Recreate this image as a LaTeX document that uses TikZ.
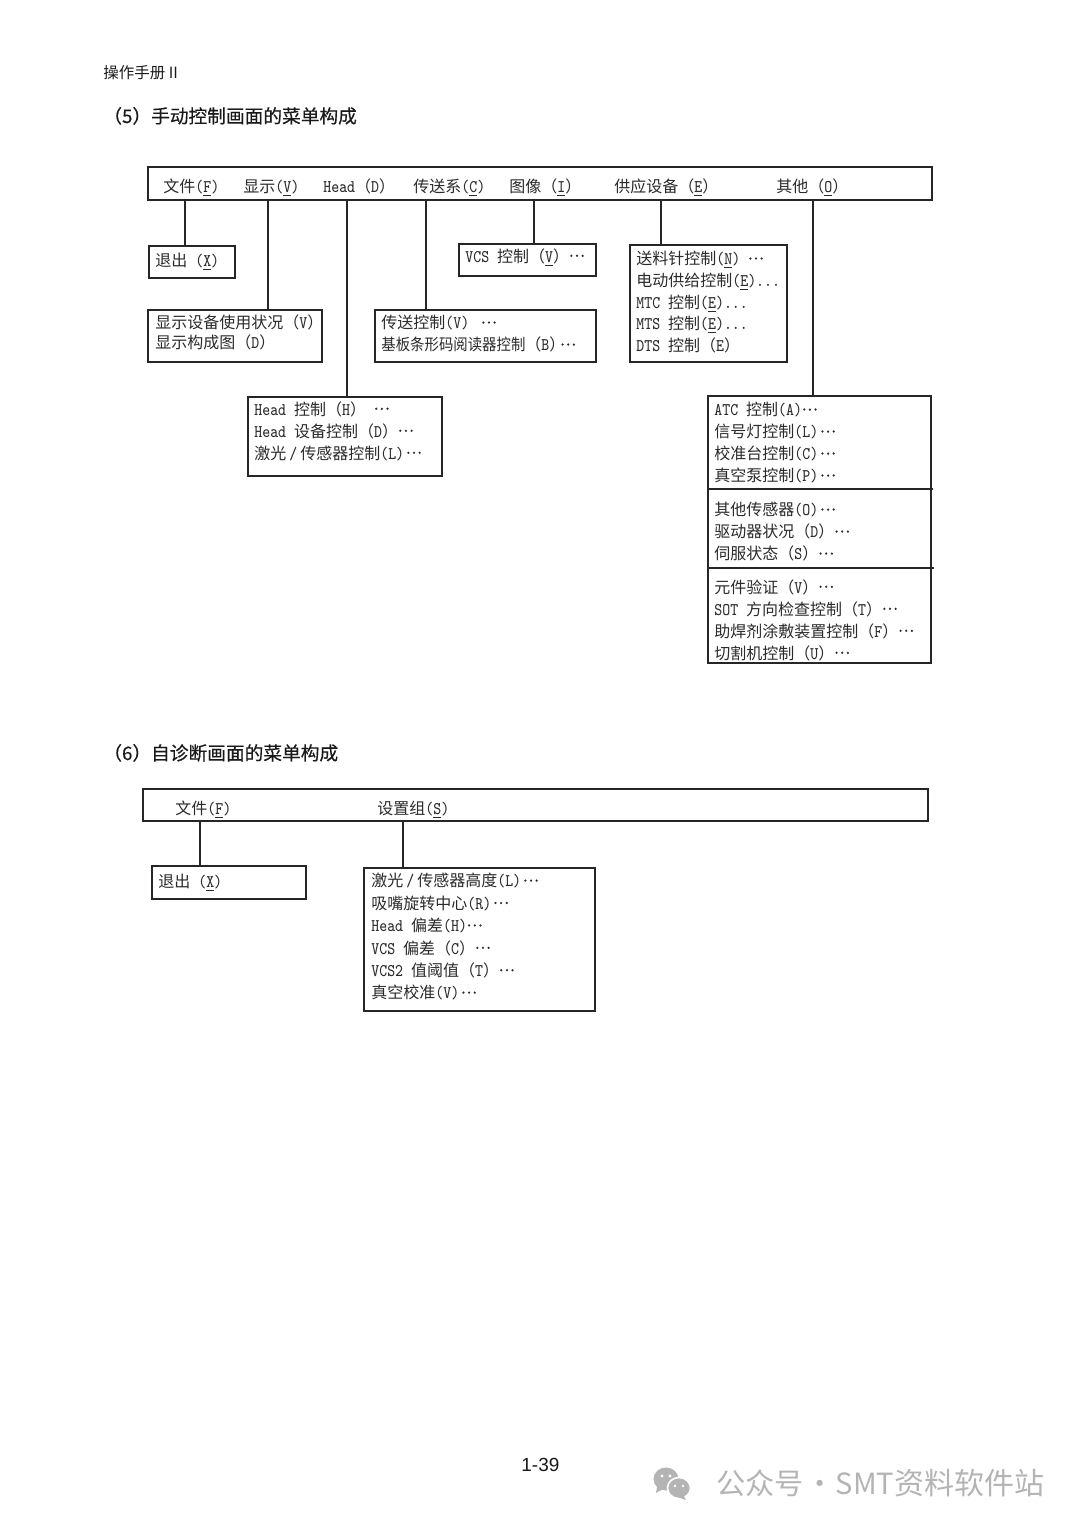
\documentclass[tikz,border=0pt]{standalone}
\usepackage{fontspec}
\setmainfont{Noto Sans CJK SC}
\setmonofont[FakeStretch=0.85]{Latin Modern Mono}
\newfontfamily\arialfont{Liberation Sans}
\newfontfamily\titlefont[FakeBold=0.35]{Noto Sans CJK SC}
\newcommand{\latn}[1]{{\ttfamily\fontsize{8.9}{11}\selectfont #1}}
\newcommand{\hotkey}[1]{\latn{(\underline{#1})}}
\newcommand{\wideu}[1]{（\latn{\underline{#1}}）}
\newcommand{\slashmark}{\kern1.5pt\latn{/}\kern1.5pt}
\newcommand{\middots}{\raisebox{2.7pt}{\titlefont.\kern.6pt.\kern.6pt.}}
\definecolor{inkgray}{HTML}{2B2B2B}
\definecolor{markgray}{HTML}{B4B4B4}
\tikzset{
  menubox/.style={draw=black!85,line width=1pt,fill=white,inner sep=0pt,outer sep=0pt},
  itemtext/.style={anchor=north west,inner sep=0pt,align=left,text=inkgray,font=\fontsize{8}{11}\selectfont},
  titletext/.style={anchor=base west,inner sep=0pt,text=black!90,font=\titlefont\fontsize{9.35}{11}\selectfont},
  conn/.style={draw=black!85,line width=1pt}
}
\begin{document}
\begin{tikzpicture}[x=0.5pt,y=-0.5pt]
  \useasboundingbox (0,0) rectangle (1080,1527);

  % Page head and section titles
  \node[titletext,font=\fontsize{7.75}{11}\selectfont] (pagehead) at (103,78) {操作手册 II};
  \node[titletext] (titlefive) at (103,123) {（5）手动控制画面的菜单构成};
  \node[titletext] (titlesix) at (103,760) {（6）自诊断画面的菜单构成};

  % Manual control menu
  \node[menubox,minimum width=392pt,minimum height=16.5pt] (barA) at (540,183.5) {};
  \node[itemtext] (mfile) at (163,179) {文件\hotkey{F}};
  \node[itemtext] (mview) at (243,179) {显示\hotkey{V}};
  \node[itemtext] (mhead) at (323,178) {\latn{Head}（\latn{D}）};
  \node[itemtext] (mconv) at (413,179) {传送系\hotkey{C}};
  \node[itemtext] (mimage) at (509,178) {图像\wideu{I}};
  \node[itemtext] (mfeed) at (614,178) {供应设备\wideu{E}};
  \node[itemtext] (mother) at (776,178) {其他\wideu{O}};

  \coordinate (xfile) at (185,200);
  \coordinate (xview) at (268,200);
  \coordinate (xhead) at (347,200);
  \coordinate (xconv) at (426,200);
  \coordinate (ximage) at (534,200);
  \coordinate (xfeed) at (661,200);
  \coordinate (xother) at (813,200);

  \node[menubox,minimum width=43pt,minimum height=16pt] (bxexit) at (192,262) {};
  \node[menubox,minimum width=87pt,minimum height=26pt] (bxview) at (235,336) {};
  \node[menubox,minimum width=110.5pt,minimum height=26pt] (bxconv) at (485.5,336) {};
  \node[menubox,minimum width=68.5pt,minimum height=16pt] (bxvcs) at (527.5,260) {};
  \node[menubox,minimum width=78.5pt,minimum height=58.5pt] (bxfeed) at (708.5,303.5) {};
  \node[menubox,minimum width=97pt,minimum height=39.5pt] (bxhead) at (345,436.5) {};
  \node[menubox,minimum width=111.5pt,minimum height=133.5pt] (bxother) at (819.5,529.5) {};

  \draw[conn] (xfile) -- (xfile |- bxexit.north);
  \draw[conn] (xview) -- (xview |- bxview.north);
  \draw[conn] (xhead) -- (xhead |- bxhead.north);
  \draw[conn] (xconv) -- (xconv |- bxconv.north);
  \draw[conn] (ximage) -- (ximage |- bxvcs.north);
  \draw[conn] (xfeed) -- (xfeed |- bxfeed.north);
  \draw[conn] (xother) -- (xother |- bxother.north);

  \coordinate (dvA) at (708,489);
  \coordinate (dvB) at (708,568);
  \draw[conn] (dvA) -- ++(225,0);
  \draw[conn] (dvB) -- ++(226,0);

  \node[itemtext] (texit) at (155,253) {退出\latn{ (\underline{X})}};
  \node[itemtext] (tview) at (155,314) {显示设备使用状况（\latn{V}）\\[-1pt]显示构成图（\latn{D}）};
  \node[itemtext] (tconv) at (381,315) {传送控制\latn{(V) }\kern2pt\middots\\\scalebox{.9}[1]{基板条形码阅读器控制}（\latn{B}）\kern-2.5pt\middots};
  \node[itemtext] (tvcs) at (465,248) {\latn{VCS }控制\wideu{V}\middots};
  \node[itemtext,font=\fontsize{8}{10.85}\selectfont] (tfeed) at (636,251) {送料针控制\hotkey{N}\latn{ }\middots\\
    电动供给控制\hotkey{E}\latn{...}\\
    \latn{MTC }控制\hotkey{E}\latn{...}\\
    \latn{MTS }控制\hotkey{E}\latn{...}\\
    \latn{DTS }控制（\latn{E}）};
  \node[itemtext] (thead) at (254,401) {\latn{Head }控制（\latn{H}）\latn{ }\middots\\
    \latn{Head }设备控制（\latn{D}）\middots\\
    激光\slashmark 传感器控制\latn{(L)}\kern1pt\middots};
  \node[itemtext] (totherA) at (714,402) {\latn{ATC }控制\latn{(A)}\middots\\
    信号灯控制\latn{(L)}\kern1pt\middots\\
    校准台控制\latn{(C)}\kern1pt\middots\\
    真空泵控制\latn{(P)}\kern1pt\middots};
  \node[itemtext] (totherB) at (714,502) {其他传感器\latn{(O)}\kern1pt\middots\\
    驱动器状况（\latn{D}）\middots\\
    伺服状态（\latn{S}）\middots};
  \node[itemtext] (totherC) at (714,579) {元件验证（\latn{V}）\middots\\
    \latn{SOT }方向检查控制（\latn{T}）\middots\\
    助焊剂涂敷装置控制（\latn{F}）\middots\\
    切割机控制（\latn{U}）\middots};

  % Self diagnosis menu
  \node[menubox,minimum width=392.5pt,minimum height=16pt] (barB) at (535.5,805) {};
  \node[itemtext] (sfile) at (175,801) {文件\hotkey{F}};
  \node[itemtext] (sgroup) at (377,801) {设置组\hotkey{S}};

  \coordinate (zfile) at (200,821);
  \coordinate (zgroup) at (403,821);

  \node[menubox,minimum width=77pt,minimum height=16.5pt] (bxsexit) at (229,882.5) {};
  \node[menubox,minimum width=115.5pt,minimum height=71.5pt] (bxsetup) at (479.5,939.5) {};

  \draw[conn] (zfile) -- (zfile |- bxsexit.north);
  \draw[conn] (zgroup) -- (zgroup |- bxsetup.north);

  \node[itemtext] (tsexit) at (158,874) {退出\latn{ (\underline{X})}};
  \node[itemtext,font=\fontsize{8}{11.2}\selectfont] (tsetup) at (371,873) {激光\slashmark 传感器高度\latn{(L)}\kern1pt\middots\\
    吸嘴旋转中心\latn{(R)}\kern1pt\middots\\
    \latn{Head }偏差\latn{(H)}\middots\\
    \latn{VCS }偏差（\latn{C}）\middots\\
    \latn{VCS2 }值阈值（\latn{T}）\middots\\
    真空校准\latn{(V)}\kern1pt\middots};

  % Page number and mark
  \node[anchor=base west,inner sep=0pt,text=black!90,font=\arialfont\fontsize{9.5}{11}\selectfont] (pageno) at (521,1471) {1-39};
  \fill[markgray] (666,1479) ellipse (12.5 and 11.5);
  \fill[markgray] (657,1487) -- (656,1493) -- (663,1489) -- cycle;
  \draw[white,fill=markgray,line width=0.8pt] (679,1488) ellipse (11.5 and 10.5);
  \fill[markgray] (684,1496) -- (686,1500) -- (678,1497) -- cycle;
  \fill[white] (662,1476) circle (1.6) (670,1476) circle (1.6) (675,1486) circle (1.4) (683,1486) circle (1.4);
  \node[anchor=base west,inner sep=0pt,text=markgray,font=\fontsize{14.6}{16}\selectfont] (wmark) at (716,1494) {公众号 \kern-2.5pt·\kern.5pt SMT{\fontsize{15}{16}\selectfont 资料软件站}};
\end{tikzpicture}
\end{document}
